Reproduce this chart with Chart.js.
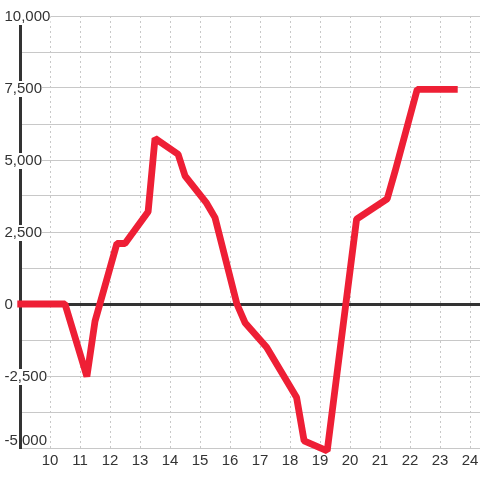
<!DOCTYPE html>
<html><head><meta charset="utf-8">
<script src="https://cdn.jsdelivr.net/npm/chart.js@4"></script>
<style>html,body{margin:0;padding:0;background:#fff;}#wrap{width:480px;height:480px;position:relative;}</style>
</head><body><div id="wrap"><canvas id="c"></canvas></div>
<script>
// ---- data ----
const xValues = [8.91, 10.5, 11.23, 11.5, 12.23, 12.5, 13.27, 13.5, 14.27, 14.5, 15.22, 15.5, 16.23, 16.5, 17.22, 18.22, 18.47, 19.24, 20.22, 21.24, 21.5, 22.24, 23.59];
const yValues = [0, 0, -2520, -600, 2100, 2100, 3200, 5750, 5200, 4450, 3500, 3000, 0, -650, -1500, -3250, -4750, -5100, 2950, 3650, 4600, 7450, 7450];
const xTickValues = [9, 10, 11, 12, 13, 14, 15, 16, 17, 18, 19, 20, 21, 22, 23, 24];
const xLabels = ['', '10', '11', '12', '13', '14', '15', '16', '17', '18', '19', '20', '21', '22', '23', '24'];
// listed top to bottom
const yTickValues = [10000, 8750, 7500, 6250, 5000, 3750, 2500, 1250, 0, -1250, -2500, -3750, -5000];
const yLabels = ['10,000', '', '7,500', '', '5,000', '', '2,500', '', '0', '', '-2,500', '', '-5,000'];

const points = xValues.map((x, i) => ({x: x, y: yValues[i]}));
const FONT = {family: '"Liberation Sans", Arial, sans-serif', size: 15, lineHeight: '16px'};
const lastIdx = yTickValues.length - 1;

new Chart(document.getElementById('c'), {
  type: 'line',
  data: {datasets: [{
    data: points,
    borderColor: '#ee1f35',
    borderWidth: 6.8,
    borderJoinStyle: 'bevel',
    borderCapStyle: 'butt',
    pointRadius: 0,
    tension: 0,
    clip: false,
    fill: false
  }]},
  options: {
    responsive: true,
    maintainAspectRatio: false,
    animation: false,
    layout: {padding: {top: 16, left: 20, right: 0, bottom: 0}},
    plugins: {legend: {display: false}, tooltip: {enabled: false}},
    scales: {
      x: {
        type: 'linear',
        min: 9,
        max: 24.333,
        afterBuildTicks: a => { a.ticks = xTickValues.map(v => ({value: v})); },
        afterFit: a => { a.height = 32; a.paddingLeft = 0; a.paddingRight = 0; },
        grid: {
          color: c => (c.tick && c.tick.value === 9) ? 'rgba(0,0,0,0)' : '#c8c8c8',
          lineWidth: 1,
          drawTicks: false
        },
        border: {display: false, dash: [2, 3]},
        ticks: {
          callback: (v, i) => xLabels[i],
          font: FONT,
          color: '#333',
          padding: 5,
          maxRotation: 0,
          autoSkip: false
        }
      },
      y: {
        type: 'linear',
        min: -5000,
        max: 10000,
        afterBuildTicks: a => { a.ticks = yTickValues.map(v => ({value: v})); },
        afterFit: a => { a.width = 0; a.paddingTop = 0; a.paddingBottom = 0; },
        grid: {
          color: c => (c.tick && c.tick.value === 0) ? '#333' : '#c8c8c8',
          lineWidth: c => (c.tick && c.tick.value === 0) ? 3 : 1,
          drawTicks: false
        },
        border: {display: true, color: '#333', width: 3},
        ticks: {
          mirror: true,
          padding: -15.5,
          labelOffset: 1,
          // bottom label sits above its line, like the reference
          callback: (v, i) => (i === lastIdx ? [yLabels[i], ''] : yLabels[i]),
          font: FONT,
          color: '#333',
          showLabelBackdrop: true,
          backdropColor: c => (c.index === lastIdx ? 'rgba(255,255,255,0)' : '#fff'),
          // the empty tick just above the bottom label clears the space behind that label
          backdropPadding: c => (c.index === lastIdx - 1 ? {top: -31, bottom: 31, left: 0.5, right: 40.5} : 0),
          autoSkip: false
        }
      }
    }
  }
});
</script></body></html>
